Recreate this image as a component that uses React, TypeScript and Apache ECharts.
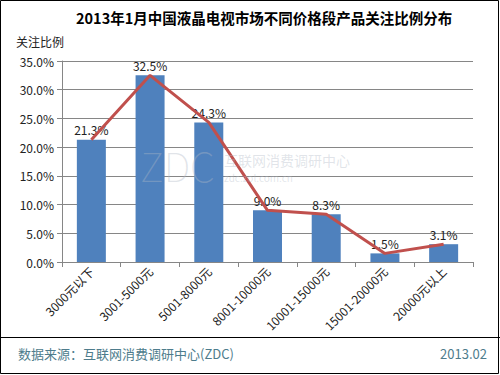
import React, { useEffect, useRef } from "react";
import * as echarts from "echarts";

const categories = ["3000元以下", "3001-5000元", "5001-8000元", "8001-10000元", "10001-15000元", "15001-20000元", "20000元以上"];
const shares = [21.3, 32.5, 24.3, 9.0, 8.3, 1.5, 3.1];
const yTicks = [0, 5, 10, 15, 20, 25, 30, 35];

const FONT = "'Noto Sans CJK SC', 'DejaVu Sans', sans-serif";
const WM = "rgba(175,185,198,0.38)";

export default function App() {
  const ref = useRef<HTMLDivElement>(null);
  useEffect(() => {
    const chart = echarts.init(ref.current!, null, { renderer: "svg" });
    chart.setOption({
      animation: false,
      backgroundColor: "#ffffff",
      textStyle: { fontFamily: FONT },
      title: {
        text: "2013年1月中国液晶电视市场不同价格段产品关注比例分布",
        left: 71,
        top: 5,
        textStyle: { fontSize: 14.5, fontWeight: "bold", color: "#000", fontFamily: FONT },
      },
      grid: { left: 62, right: 27, top: 61, bottom: 113 },
      xAxis: {
        type: "category",
        data: categories,
        axisLine: { lineStyle: { color: "#868686", width: 1 } },
        axisTick: { show: true, alignWithLabel: false, length: 5, lineStyle: { color: "#868686" } },
        axisLabel: { rotate: 45, fontSize: 12, color: "#222", margin: 7, interval: 0, fontFamily: FONT },
      },
      yAxis: {
        type: "value",
        min: yTicks[0],
        max: yTicks[yTicks.length - 1],
        interval: 5,
        name: "关注比例",
        nameLocation: "end",
        nameGap: 14,
        nameTextStyle: { fontSize: 12, color: "#222", align: "left", padding: [0, 0, 0, -46], fontFamily: FONT },
        axisLine: { show: true, lineStyle: { color: "#868686" } },
        axisTick: { show: true, length: 5, lineStyle: { color: "#868686" } },
        axisLabel: { fontSize: 12, color: "#222", margin: 8, formatter: (v: number) => v.toFixed(1) + "%", fontFamily: FONT },
        splitLine: { lineStyle: { color: "#868686", width: 1 } },
      },
      series: [
        {
          type: "bar",
          data: shares,
          barWidth: 29,
          itemStyle: { color: "#4f81bd" },
          label: {
            show: true,
            position: "top",
            distance: 4,
            fontSize: 12,
            color: "#222",
            formatter: (p: any) => p.value.toFixed(1) + "%",
            fontFamily: FONT,
          },
          z: 2,
        },
        {
          type: "line",
          data: shares,
          showSymbol: false,
          symbol: "none",
          lineStyle: { color: "#c0504d", width: 3 },
          z: 3,
        },
      ],
      graphic: [
        { type: "rect", shape: { x: 0.5, y: 0.5, width: 498, height: 373 }, style: { fill: "none", stroke: "#000", lineWidth: 1 }, silent: true },
        { type: "line", shape: { x1: 0, y1: 337.5, x2: 500, y2: 337.5 }, style: { stroke: "#000", lineWidth: 1 }, silent: true },
        {
          type: "text",
          left: 18,
          top: 347,
          style: { text: "数据来源：互联网消费调研中心(ZDC)", fontSize: 13, fill: "#4e7c8c", fontFamily: FONT },
          silent: true,
        },
        {
          type: "text",
          right: 13,
          top: 347,
          style: { text: "2013.02", fontSize: 13, fill: "#4e7c8c", fontFamily: FONT },
          silent: true,
        },
        {
          type: "text",
          left: 140,
          top: 145,
          z: 10,
          style: { text: "ZDC", fontSize: 40, fontWeight: "lighter", fill: WM, fontFamily: FONT },
          silent: true,
        },
        {
          type: "text",
          left: 224,
          top: 153,
          z: 10,
          style: { text: "互联网消费调研中心", fontSize: 14, fill: WM, fontFamily: FONT },
          silent: true,
        },
        {
          type: "text",
          left: 224,
          top: 172,
          z: 10,
          style: { text: "zdc.zol.com.cn", fontSize: 10, fill: WM, fontFamily: FONT },
          silent: true,
        },
      ],
    });
    return () => chart.dispose();
  }, []);
  return <div ref={ref} style={{ position: "absolute", left: 0, top: 0, width: 500, height: 375 }} />;
}
